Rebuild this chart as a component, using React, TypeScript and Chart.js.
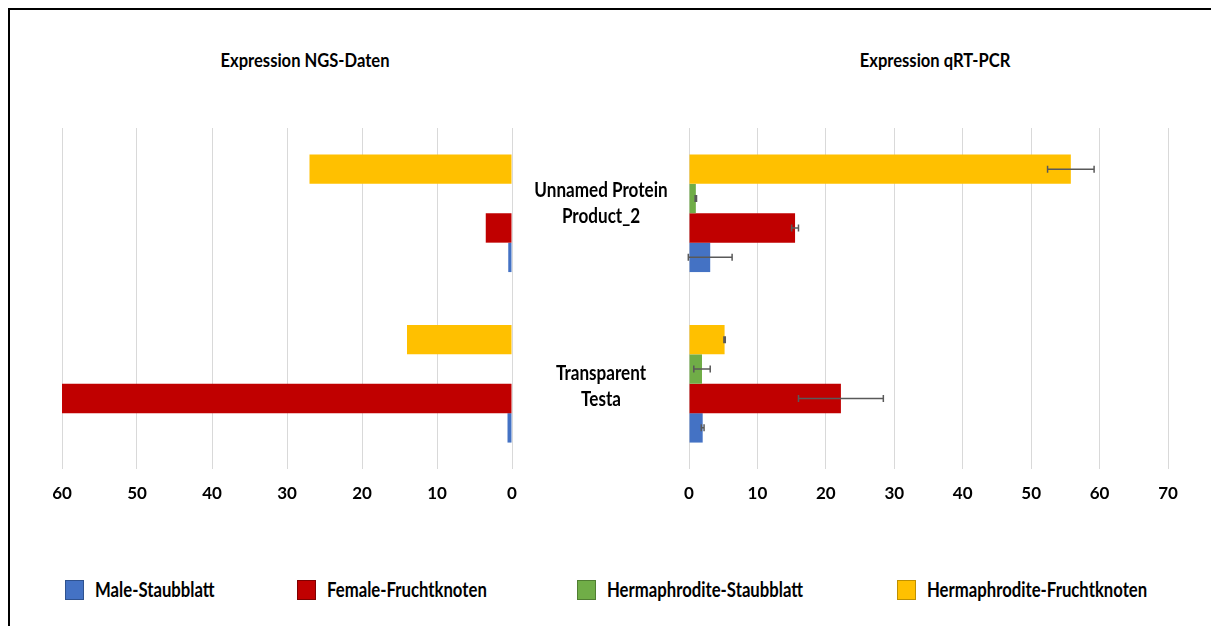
import React, { useEffect, useRef } from 'react';
import { Chart, registerables } from 'chart.js';

Chart.register(...registerables);

// ---------- data ----------
const categories: string[][] = [
  ['Unnamed Protein', 'Product_2'],
  ['Transparent', 'Testa'],
];
const seriesNames = ['Male-Staubblatt', 'Female-Fruchtknoten', 'Hermaphrodite-Staubblatt', 'Hermaphrodite-Fruchtknoten'];
const seriesColors = ['#4472C4', '#C00000', '#70AD47', '#FFC000'];
const seriesBorders = ['#2F528F', '#7F0000', '#507E32', '#BF9000'];

// NGS (left panel)
const ngsMale = [0.5, 0.6];
const ngsFemale = [3.5, 60];
const ngsHermStaub = [0, 0];
const ngsHermFrucht = [27, 14];

// qRT-PCR (right panel)
const pcrMale = [3.1, 2.0];
const pcrFemale = [15.5, 22.2];
const pcrHermStaub = [1.0, 1.9];
const pcrHermFrucht = [55.8, 5.2];
const pcrMaleErr = [3.2, 0.2];
const pcrFemaleErr = [0.5, 6.2];
const pcrHermStaubErr = [0.1, 1.2];
const pcrHermFruchtErr = [3.4, 0.1];

const ngsMax = 60;
const pcrMax = 70;
const tickStep = 10;

const titleLeft = 'Expression NGS-Daten';
const titleRight = 'Expression qRT-PCR';

const FONT = 'Lato, "Open Sans", sans-serif';

// layout constants
const legendLeft = [55, 287, 567, 887];
const labelShift = [-10, 3];

const errorBarPlugin = {
  id: 'errorBars',
  afterDatasetsDraw(chart: any) {
    const ctx = chart.ctx;
    const xs = chart.scales.x;
    chart.data.datasets.forEach((ds: any, di: number) => {
      if (!ds.errors) return;
      const meta = chart.getDatasetMeta(di);
      meta.data.forEach((el: any, i: number) => {
        const v = ds.data[i];
        const e = ds.errors[i];
        const x1 = xs.getPixelForValue(v - e);
        const x2 = xs.getPixelForValue(v + e);
        const y = el.y;
        const cap = 3.5;
        ctx.save();
        ctx.strokeStyle = '#595959';
        ctx.lineWidth = 1.5;
        ctx.beginPath();
        ctx.moveTo(x1, y);
        ctx.lineTo(x2, y);
        ctx.moveTo(x1, y - cap);
        ctx.lineTo(x1, y + cap);
        ctx.moveTo(x2, y - cap);
        ctx.lineTo(x2, y + cap);
        ctx.stroke();
        ctx.restore();
      });
    });
  },
};

const categoryLabelPlugin = {
  id: 'categoryLabels',
  afterDraw(chart: any) {
    const ctx = chart.ctx;
    const ys = chart.scales.y;
    const cx = chart.chartArea.left - 88;
    ctx.save();
    ctx.font = `bold 19px ${FONT}`;
    ctx.fillStyle = '#000';
    ctx.textAlign = 'center';
    ctx.textBaseline = 'middle';
    categories.forEach((lines, i) => {
      const yc = ys.getPixelForValue(i) + labelShift[i];
      const lh = 26;
      const start = yc - ((lines.length - 1) * lh) / 2;
      lines.forEach((t, j) => {
        ctx.save();
        ctx.translate(cx, start + j * lh);
        ctx.scale(0.9, 1.05);
        ctx.fillText(t, 0, 0);
        ctx.restore();
      });
    });
    ctx.restore();
  },
};

function buildDatasets(vals: number[][], errs?: number[][]) {
  // drawn top-to-bottom within each category: Herm-Frucht, Herm-Staub, Female, Male
  const order = [3, 2, 1, 0];
  return order.map((k) => ({
    label: seriesNames[k],
    data: vals[k],
    errors: errs ? errs[k] : undefined,
    backgroundColor: seriesColors[k],
    borderWidth: 0,
    categoryPercentage: 0.69,
    barPercentage: 1,
  }));
}

function makeOptions(max: number, reverse: boolean, padding: any) {
  return {
    indexAxis: 'y' as const,
    responsive: false,
    animation: false as const,
    layout: { padding },
    plugins: { legend: { display: false }, title: { display: false }, tooltip: { enabled: false } },
    scales: {
      x: {
        min: 0,
        max,
        reverse,
        ticks: {
          stepSize: tickStep,
          color: '#000',
          padding: 16,
          font: { family: FONT, size: 17, weight: 'bold' as const, lineHeight: 1 },
        },
        grid: { color: '#d9d9d9', lineWidth: 1, drawTicks: false },
        border: { display: false },
      },
      y: { display: false },
    },
  };
}

const App: React.FC = () => {
  const leftRef = useRef<HTMLCanvasElement>(null);
  const rightRef = useRef<HTMLCanvasElement>(null);

  useEffect(() => {
    const left = new Chart(leftRef.current!, {
      type: 'bar',
      data: {
        labels: categories.map((c) => c.join(' ')),
        datasets: buildDatasets([ngsMale, ngsFemale, ngsHermStaub, ngsHermFrucht]) as any,
      },
      options: makeOptions(ngsMax, true, { left: 52, right: 48, top: 118, bottom: 0 }) as any,
    });
    const right = new Chart(rightRef.current!, {
      type: 'bar',
      data: {
        labels: categories.map((c) => c.join(' ')),
        datasets: buildDatasets(
          [pcrMale, pcrFemale, pcrHermStaub, pcrHermFrucht],
          [pcrMaleErr, pcrFemaleErr, pcrHermStaubErr, pcrHermFruchtErr]
        ) as any,
      },
      options: makeOptions(pcrMax, false, { left: 169, right: 43, top: 118, bottom: 0 }) as any,
      plugins: [errorBarPlugin, categoryLabelPlugin],
    });
    return () => {
      left.destroy();
      right.destroy();
    };
  }, []);

  const titleStyle: React.CSSProperties = {
    position: 'absolute',
    width: 300,
    textAlign: 'center',
    fontFamily: FONT,
    fontWeight: 'bold',
    fontSize: 18,
    lineHeight: '20px',
    top: 40,
    color: '#000',
    transform: 'scaleX(0.92) scaleY(1.05)',
    whiteSpace: 'nowrap',
  };

  return (
    <div
      style={{
        position: 'fixed',
        left: 8,
        top: 8,
        width: 1260,
        height: 660,
        borderLeft: '2px solid #000',
        borderTop: '2px solid #000',
        background: '#fff',
        overflow: 'hidden',
        fontFamily: FONT,
      }}
    >
      <div style={{ ...titleStyle, left: 144.5 }}>{titleLeft}</div>
      <div style={{ ...titleStyle, left: 775 }}>{titleRight}</div>
      <canvas ref={leftRef} width={550} height={508} style={{ position: 'absolute', left: 0, top: 0 }} />
      <canvas ref={rightRef} width={691} height={508} style={{ position: 'absolute', left: 510, top: 0 }} />
      {seriesNames.map((n, i) => (
        <div
          key={n}
          style={{
            position: 'absolute',
            left: legendLeft[i],
            top: 569,
            display: 'flex',
            alignItems: 'center',
            whiteSpace: 'nowrap',
          }}
        >
          <span
            style={{
              display: 'inline-block',
              width: 17,
              height: 18,
              background: seriesColors[i],
              border: `1px solid ${seriesBorders[i]}`,
              marginRight: 11,
              flex: '0 0 auto',
            }}
          />
          <span
            style={{
              fontWeight: 'bold',
              fontSize: 19,
              lineHeight: '22px',
              color: '#000',
              display: 'inline-block',
              transform: 'scaleX(0.88) scaleY(1.05)',
              transformOrigin: 'left center',
            }}
          >
            {n}
          </span>
        </div>
      ))}
    </div>
  );
};

export default App;
